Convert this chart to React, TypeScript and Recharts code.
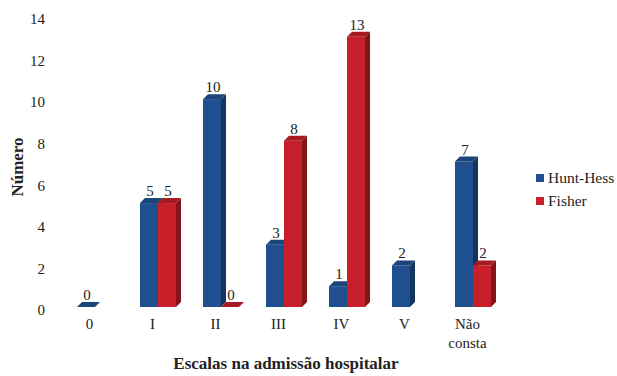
import { BarChart, Bar, XAxis, YAxis, LabelList } from 'recharts'

const categories = ['0', 'I', 'II', 'III', 'IV', 'V', 'Não consta']
const huntHess = [0, 5, 10, 3, 1, 2, 7]
const fisher: (number | null)[] = [null, 5, 0, 8, 13, null, 2]
const yTicks = [0, 2, 4, 6, 8, 10, 12, 14]

const data = categories.map((name, i) => ({ name, huntHess: huntHess[i], fisher: fisher[i] }))

const FONT = "'Liberation Serif', 'Times New Roman', serif"
const DEPTH = 5

const SERIES = [
  { key: 'huntHess', name: 'Hunt-Hess', front: '#1f4f8e', side: '#14355f', top: '#1b4479' },
  { key: 'fisher', name: 'Fisher', front: '#c8202b', side: '#85141a', top: '#a81a23' },
]

// front face + darker right side + top face, drawn as a fake 3D column
function Column3D(colors: { front: string; side: string; top: string }, dataKey: string) {
  return (props: any) => {
    const { x, y, width, height, payload } = props
    if (payload == null || payload[dataKey] == null) return null
    const d = DEPTH
    const b = y + height
    return (
      <g>
        <rect x={x} y={y} width={width} height={height} fill={colors.front} />
        <polygon
          points={`${x + width},${y} ${x + width + d},${y - d} ${x + width + d},${b - d} ${x + width},${b}`}
          fill={colors.side}
        />
        <polygon
          points={`${x},${y} ${x + width},${y} ${x + width + d},${y - d} ${x + d},${y - d}`}
          fill={colors.top}
        />
      </g>
    )
  }
}

function ValueLabel(props: any) {
  const { x, y, width, value } = props
  if (value == null) return null
  return (
    <text x={x + width / 2 + 1} y={y - 7} textAnchor="middle" fontSize={15} fill="#222">
      {value}
    </text>
  )
}

function CategoryTick(props: any) {
  const { x, y, payload } = props
  const words = String(payload.value).split(' ')
  return (
    <text x={x - 5} y={y + 4} textAnchor="middle" fontSize={15} fill="#222">
      {words.map((w, i) => (
        <tspan key={i} x={x - 5} dy={i === 0 ? 10 : 19}>
          {w}
        </tspan>
      ))}
    </text>
  )
}

function YTick(props: any) {
  const { x, y, payload } = props
  return (
    <text x={x} y={y + 3} dy="0.355em" textAnchor="end" fontSize={15} fill="#222">
      {payload.value}
    </text>
  )
}

export default function App() {
  return (
    <div style={{ width: 617, height: 376, background: '#fff', position: 'relative', color: '#222', fontFamily: FONT }}>
      <style>{`body{margin:0} #root, #root * { font-family: ${FONT} !important; }`}</style>
      <BarChart
        width={617}
        height={376}
        data={data}
        margin={{ top: 16, right: 113, left: 0, bottom: 29 }}
        barSize={18}
        barGap={0}
      >
        <XAxis dataKey="name" axisLine={false} tickLine={false} tick={<CategoryTick />} interval={0} height={40} />
        <YAxis
          domain={[0, 14]}
          ticks={yTicks}
          axisLine={false}
          tickLine={false}
          width={63}
          tickMargin={12}
          tick={<YTick />}
        />
        {SERIES.map((s) => (
          <Bar
            key={s.key}
            dataKey={s.key}
            name={s.name}
            fill={s.front}
            shape={Column3D(s, s.key)}
            isAnimationActive={false}
          >
            <LabelList dataKey={s.key} content={<ValueLabel />} />
          </Bar>
        ))}
      </BarChart>
      <div style={{ position: 'absolute', left: 536, top: 166, fontSize: 15.5 }}>
        {SERIES.map((s) => (
          <div key={s.key} style={{ display: 'flex', alignItems: 'center', height: 23 }}>
            <span style={{ display: 'inline-block', width: 8, height: 8, background: s.front, marginRight: 4 }} />
            {s.name}
          </div>
        ))}
      </div>
      <div
        style={{
          position: 'absolute',
          left: 18,
          top: 167,
          transform: 'translate(-50%, -50%) rotate(-90deg)',
          fontWeight: 'bold',
          fontSize: 17,
          whiteSpace: 'nowrap',
        }}
      >
        Número
      </div>
      <div
        style={{
          position: 'absolute',
          left: 0,
          width: 572,
          top: 354,
          textAlign: 'center',
          fontWeight: 'bold',
          fontSize: 17,
        }}
      >
        Escalas na admissão hospitalar
      </div>
    </div>
  )
}
